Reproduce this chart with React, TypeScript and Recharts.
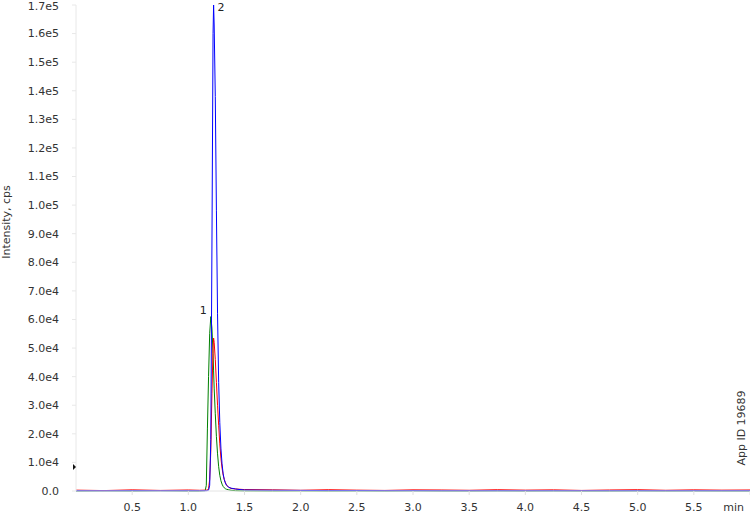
import { LineChart, Line, XAxis, YAxis, ReferenceDot } from 'recharts';

const times = [
  0, 0.25, 0.5, 0.75, 1.0, 1.1, 1.15, 1.16, 1.17, 1.18, 1.19, 1.2, 1.21, 1.22, 1.225, 1.23,
  1.24, 1.25, 1.26, 1.27, 1.28, 1.29, 1.3, 1.31, 1.32, 1.33, 1.34, 1.36, 1.38, 1.42, 1.46, 1.5,
  1.75, 2.0, 2.25, 2.5, 2.75, 3.0, 3.25, 3.5, 3.75, 4.0, 4.25, 4.5, 4.75, 5.0, 5.25, 5.5, 5.75, 6.0,
];

const greenTrace = [
  0, 50, 0, 80, 0, 0, 100, 2000, 22000, 40000, 55000, 61000, 57000, 48000, 42000, 36000,
  27000, 19000, 13000, 8500, 5500, 3600, 2400, 1600, 1100, 800, 600, 400, 250, 120, 60, 30,
  0, 30, 0, 20, 0, 40, 0, 0, 30, 0, 20, 0, 0, 30, 0, 20, 0, 0,
];

const redTrace = [
  300, 150, 400, 200, 350, 250, 300, 300, 350, 800, 4000, 14000, 34000, 50000, 53500, 52000,
  46000, 38000, 30000, 23000, 16500, 11500, 8000, 5600, 4000, 2900, 2100, 1300, 900, 700, 600, 500,
  400, 250, 450, 300, 200, 400, 350, 250, 450, 300, 400, 200, 350, 450, 250, 400, 300, 350,
];

const blueTrace = [
  100, 80, 120, 90, 100, 100, 100, 100, 150, 300, 2000, 18000, 85000, 160000, 170000, 163000,
  138000, 98000, 62000, 38000, 24000, 15000, 9500, 6000, 4000, 2800, 2000, 1300, 1000, 700, 500, 350,
  250, 200, 150, 150, 120, 120, 100, 100, 100, 100, 100, 100, 100, 100, 100, 100, 100, 100,
];

const xTicks = [0.5, 1.0, 1.5, 2.0, 2.5, 3.0, 3.5, 4.0, 4.5, 5.0, 5.5, 6.0];
const yTicks = [
  0, 10000, 20000, 30000, 40000, 50000, 60000, 70000, 80000, 90000, 100000, 110000, 120000,
  130000, 140000, 150000, 160000, 170000,
];

const peakLabels = [
  { time: 1.2, value: 61000, text: '1', side: 'left' },
  { time: 1.225, value: 170000, text: '2', side: 'right' },
];

const data = times.map((t, i) => ({
  time: t,
  green: greenTrace[i],
  red: redTrace[i],
  blue: blueTrace[i],
}));

const FONT = '"DejaVu Sans", Verdana, sans-serif';

const fmtY = (v: number) => (v === 0 ? '0.0' : v.toExponential(1).replace('e+', 'e'));

const XTick = (props: any) => {
  const { x, y, payload } = props;
  const last = payload.value === 6;
  return (
    <text
      x={last ? x - 2 : x}
      y={y}
      dy="0.71em"
      textAnchor={last ? 'end' : 'middle'}
      fontSize={11}
      fontFamily={FONT}
      fill="#333"
    >
      {last ? 'min' : payload.value.toFixed(1)}
    </text>
  );
};

export default function App() {
  return (
    <div style={{ position: 'absolute', left: 0, top: 0, width: 750, height: 515, background: '#fff' }}>
      <LineChart width={750} height={515} data={data} margin={{ top: 5, right: 0, bottom: 0, left: 0 }}>
        <XAxis
          type="number"
          dataKey="time"
          domain={[0, 6]}
          ticks={xTicks}
          allowDataOverflow
          height={24}
          tick={<XTick />}
          tickSize={4}
          tickMargin={8}
          axisLine={{ stroke: '#e4e4e4' }}
          tickLine={{ stroke: '#e0e0e0' }}
        />
        <YAxis
          type="number"
          domain={[0, 170000]}
          ticks={yTicks}
          width={76}
          tickFormatter={fmtY}
          tickSize={4}
          tickMargin={13}
          tick={{ fontSize: 11, fontFamily: FONT, fill: '#333' }}
          axisLine={{ stroke: '#e8e8e8' }}
          tickLine={{ stroke: '#e8e8e8' }}
        />
        <Line type="linear" dataKey="green" stroke="#008000" strokeWidth={1} dot={false} isAnimationActive={false} />
        <Line type="linear" dataKey="red" stroke="#ff0000" strokeWidth={1} dot={false} isAnimationActive={false} />
        <Line type="linear" dataKey="blue" stroke="#0000ff" strokeWidth={1} dot={false} isAnimationActive={false} />
        {peakLabels.map((p) => (
          <ReferenceDot
            key={p.text}
            x={p.time}
            y={p.value}
            ifOverflow="visible"
            shape={(s: any) => (
              <text
                x={p.side === 'left' ? s.cx - 4 : s.cx + 4}
                y={p.side === 'left' ? s.cy - 3 : s.cy + 6}
                textAnchor={p.side === 'left' ? 'end' : 'start'}
                fontSize={11}
                fontFamily={FONT}
                fill="#222"
              >
                {p.text}
              </text>
            )}
          />
        ))}
        <ReferenceDot
          x={0}
          y={8400}
          ifOverflow="visible"
          shape={(s: any) => (
            <polygon points={`${s.cx - 3},${s.cy - 3} ${s.cx},${s.cy} ${s.cx - 3},${s.cy + 3}`} fill="#111" />
          )}
        />
      </LineChart>
      <svg width={750} height={515} style={{ position: 'absolute', left: 0, top: 0, pointerEvents: 'none' }}>
        <text
          transform="translate(6,222) rotate(-90)"
          textAnchor="middle"
          dominantBaseline="central"
          fontSize={11}
          fontFamily={FONT}
          fill="#333"
        >
          Intensity, cps
        </text>
        <text
          transform="translate(741,428) rotate(-90)"
          textAnchor="middle"
          dominantBaseline="central"
          fontSize={11}
          fontFamily={FONT}
          fill="#333"
        >
          App ID 19689
        </text>
      </svg>
    </div>
  );
}
